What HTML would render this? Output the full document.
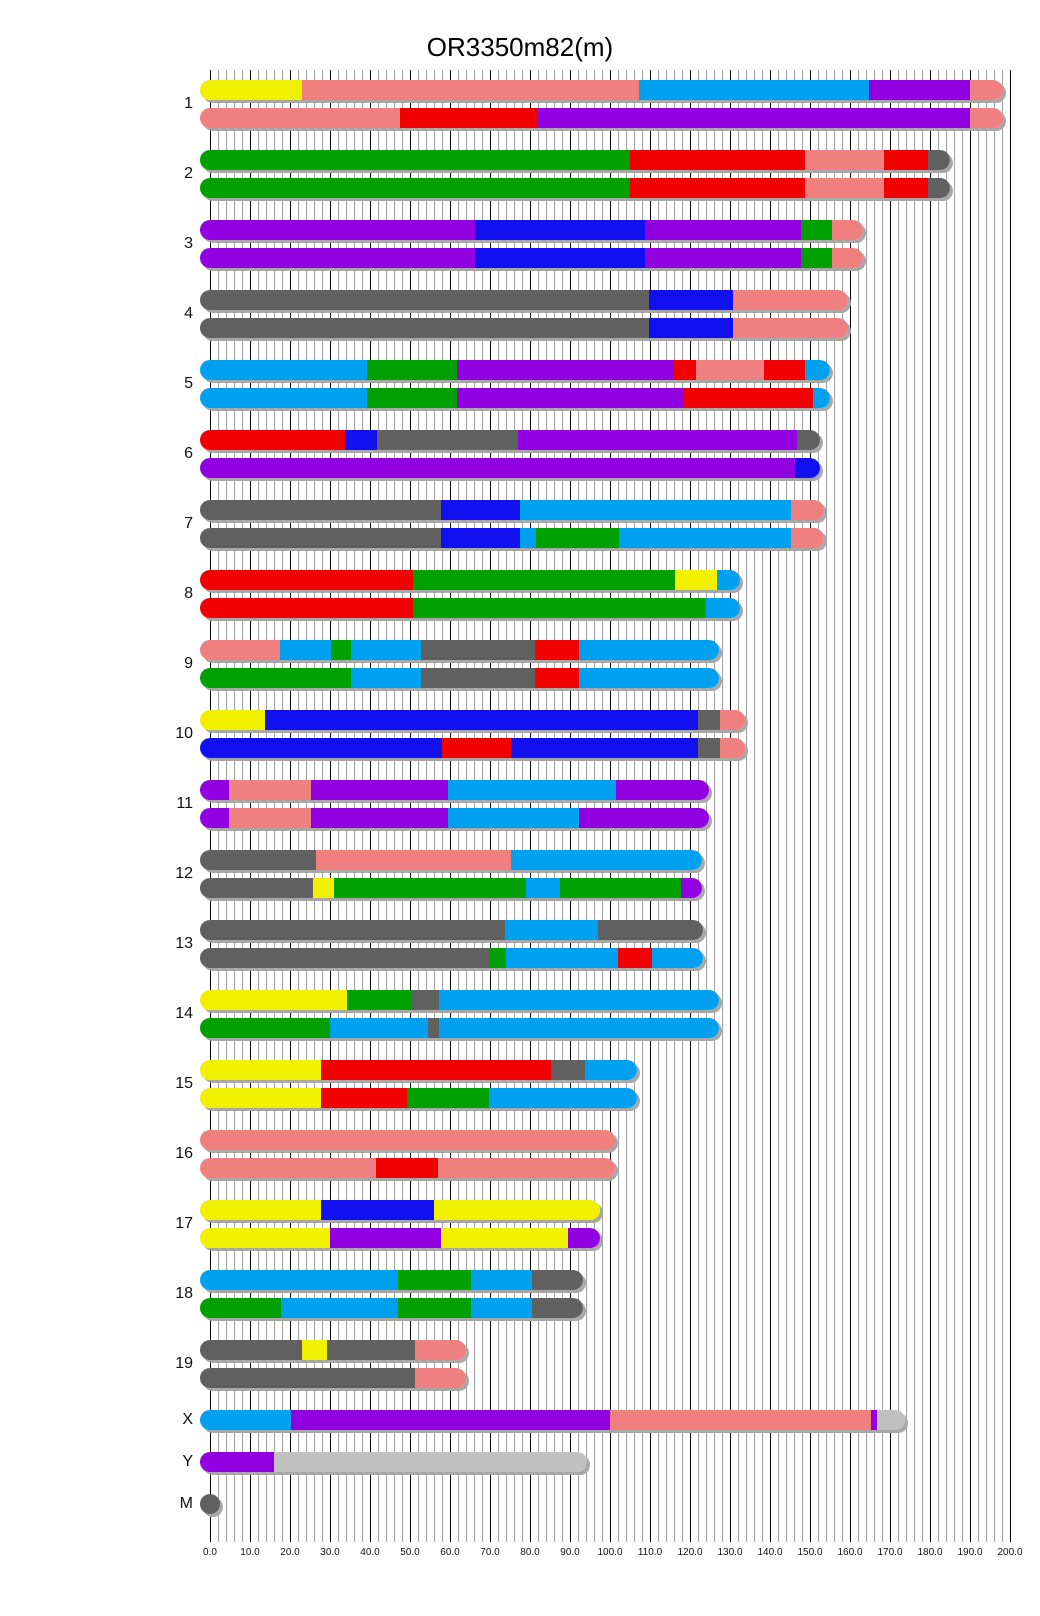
<!DOCTYPE html>
<html><head><meta charset="utf-8"><style>
body{margin:0;background:#fff;}
#c{position:relative;width:1040px;height:1616px;overflow:hidden;font-family:"Liberation Sans",sans-serif;background:#fff;}
.grid{position:absolute;left:210px;top:70px;width:801px;height:1472px;
background-image:linear-gradient(90deg,#000 0 1px,transparent 1px),linear-gradient(90deg,#a0a0a0 0 1px,transparent 1px);
background-size:40px 100%,8px 100%;}
.r{position:absolute;left:200px;height:20px;border-radius:10px;box-shadow:3px 3px 0 #a8a8a8;}
.l{position:absolute;left:140px;width:53px;text-align:right;font-size:16px;height:20px;line-height:20px;color:#111;}
.t{position:absolute;top:1547px;width:40px;text-align:center;font-size:10px;color:#111;}
.title{position:absolute;left:0;width:1040px;top:32px;text-align:center;font-size:26px;color:#000;}
</style></head><body><div id="c">
<div class="title">OR3350m82(m)</div>
<div class="grid"></div>

<div class="l" style="top:94px">1</div>
<div class="r" style="top:80px;width:803px;background:linear-gradient(90deg,#f0f000 0 102px,#f08080 102px 439px,#00a0f0 439px 669px,#9000e0 669px 770px,#f08080 770px)"></div>
<div class="r" style="top:108px;width:803px;background:linear-gradient(90deg,#f08080 0 200px,#f00000 200px 337px,#9000e0 337px 770px,#f08080 770px)"></div>

<div class="l" style="top:164px">2</div>
<div class="r" style="top:150px;width:750px;background:linear-gradient(90deg,#00a000 0 430px,#f00000 430px 605px,#f08080 605px 684px,#f00000 684px 728px,#606060 728px)"></div>
<div class="r" style="top:178px;width:750px;background:linear-gradient(90deg,#00a000 0 430px,#f00000 430px 605px,#f08080 605px 684px,#f00000 684px 728px,#606060 728px)"></div>

<div class="l" style="top:234px">3</div>
<div class="r" style="top:220px;width:663px;background:linear-gradient(90deg,#9000e0 0 275px,#1010f0 275px 445px,#9000e0 445px 601px,#00a000 601px 632px,#f08080 632px)"></div>
<div class="r" style="top:248px;width:663px;background:linear-gradient(90deg,#9000e0 0 275px,#1010f0 275px 445px,#9000e0 445px 601px,#00a000 601px 632px,#f08080 632px)"></div>

<div class="l" style="top:304px">4</div>
<div class="r" style="top:290px;width:648px;background:linear-gradient(90deg,#606060 0 449px,#1010f0 449px 533px,#f08080 533px)"></div>
<div class="r" style="top:318px;width:648px;background:linear-gradient(90deg,#606060 0 449px,#1010f0 449px 533px,#f08080 533px)"></div>

<div class="l" style="top:374px">5</div>
<div class="r" style="top:360px;width:630px;background:linear-gradient(90deg,#00a0f0 0 167px,#00a000 167px 257px,#9000e0 257px 474px,#f00000 474px 496px,#f08080 496px 564px,#f00000 564px 605px,#00a0f0 605px)"></div>
<div class="r" style="top:388px;width:630px;background:linear-gradient(90deg,#00a0f0 0 167px,#00a000 167px 257px,#9000e0 257px 483px,#f00000 483px 613px,#00a0f0 613px)"></div>

<div class="l" style="top:444px">6</div>
<div class="r" style="top:430px;width:620px;background:linear-gradient(90deg,#f00000 0 145px,#1010f0 145px 177px,#606060 177px 318px,#9000e0 318px 597px,#606060 597px)"></div>
<div class="r" style="top:458px;width:620px;background:linear-gradient(90deg,#9000e0 0 595px,#1010f0 595px)"></div>

<div class="l" style="top:514px">7</div>
<div class="r" style="top:500px;width:624px;background:linear-gradient(90deg,#606060 0 241px,#1010f0 241px 320px,#00a0f0 320px 591px,#f08080 591px)"></div>
<div class="r" style="top:528px;width:624px;background:linear-gradient(90deg,#606060 0 241px,#1010f0 241px 320px,#00a0f0 320px 336px,#00a000 336px 419px,#00a0f0 419px 591px,#f08080 591px)"></div>

<div class="l" style="top:584px">8</div>
<div class="r" style="top:570px;width:540px;background:linear-gradient(90deg,#f00000 0 213px,#00a000 213px 475px,#f0f000 475px 517px,#00a0f0 517px)"></div>
<div class="r" style="top:598px;width:540px;background:linear-gradient(90deg,#f00000 0 213px,#00a000 213px 506px,#00a0f0 506px)"></div>

<div class="l" style="top:654px">9</div>
<div class="r" style="top:640px;width:519px;background:linear-gradient(90deg,#f08080 0 80px,#00a0f0 80px 131px,#00a000 131px 151px,#00a0f0 151px 221px,#606060 221px 335px,#f00000 335px 379px,#00a0f0 379px)"></div>
<div class="r" style="top:668px;width:519px;background:linear-gradient(90deg,#00a000 0 151px,#00a0f0 151px 221px,#606060 221px 335px,#f00000 335px 379px,#00a0f0 379px)"></div>

<div class="l" style="top:724px">10</div>
<div class="r" style="top:710px;width:545px;background:linear-gradient(90deg,#f0f000 0 65px,#1010f0 65px 498px,#606060 498px 520px,#f08080 520px)"></div>
<div class="r" style="top:738px;width:545px;background:linear-gradient(90deg,#1010f0 0 242px,#f00000 242px 311px,#1010f0 311px 498px,#606060 498px 520px,#f08080 520px)"></div>

<div class="l" style="top:794px">11</div>
<div class="r" style="top:780px;width:509px;background:linear-gradient(90deg,#9000e0 0 29px,#f08080 29px 111px,#9000e0 111px 248px,#00a0f0 248px 416px,#9000e0 416px)"></div>
<div class="r" style="top:808px;width:509px;background:linear-gradient(90deg,#9000e0 0 29px,#f08080 29px 111px,#9000e0 111px 248px,#00a0f0 248px 379px,#9000e0 379px)"></div>

<div class="l" style="top:864px">12</div>
<div class="r" style="top:850px;width:502px;background:linear-gradient(90deg,#606060 0 116px,#f08080 116px 311px,#00a0f0 311px)"></div>
<div class="r" style="top:878px;width:502px;background:linear-gradient(90deg,#606060 0 113px,#f0f000 113px 134px,#00a000 134px 326px,#00a0f0 326px 360px,#00a000 360px 481px,#9000e0 481px)"></div>

<div class="l" style="top:934px">13</div>
<div class="r" style="top:920px;width:503px;background:linear-gradient(90deg,#606060 0 305px,#00a0f0 305px 398px,#606060 398px)"></div>
<div class="r" style="top:948px;width:503px;background:linear-gradient(90deg,#606060 0 290px,#00a000 290px 306px,#00a0f0 306px 418px,#f00000 418px 452px,#00a0f0 452px)"></div>

<div class="l" style="top:1004px">14</div>
<div class="r" style="top:990px;width:519px;background:linear-gradient(90deg,#f0f000 0 147px,#00a000 147px 211px,#606060 211px 239px,#00a0f0 239px)"></div>
<div class="r" style="top:1018px;width:519px;background:linear-gradient(90deg,#00a000 0 130px,#00a0f0 130px 228px,#606060 228px 239px,#00a0f0 239px)"></div>

<div class="l" style="top:1074px">15</div>
<div class="r" style="top:1060px;width:437px;background:linear-gradient(90deg,#f0f000 0 121px,#f00000 121px 351px,#606060 351px 385px,#00a0f0 385px)"></div>
<div class="r" style="top:1088px;width:437px;background:linear-gradient(90deg,#f0f000 0 121px,#f00000 121px 207px,#00a000 207px 289px,#00a0f0 289px)"></div>

<div class="l" style="top:1144px">16</div>
<div class="r" style="top:1130px;width:415px;background:#f08080"></div>
<div class="r" style="top:1158px;width:415px;background:linear-gradient(90deg,#f08080 0 176px,#f00000 176px 238px,#f08080 238px)"></div>

<div class="l" style="top:1214px">17</div>
<div class="r" style="top:1200px;width:400px;background:linear-gradient(90deg,#f0f000 0 121px,#1010f0 121px 234px,#f0f000 234px)"></div>
<div class="r" style="top:1228px;width:400px;background:linear-gradient(90deg,#f0f000 0 130px,#9000e0 130px 241px,#f0f000 241px 368px,#9000e0 368px)"></div>

<div class="l" style="top:1284px">18</div>
<div class="r" style="top:1270px;width:383px;background:linear-gradient(90deg,#00a0f0 0 198px,#00a000 198px 271px,#00a0f0 271px 332px,#606060 332px)"></div>
<div class="r" style="top:1298px;width:383px;background:linear-gradient(90deg,#00a000 0 81px,#00a0f0 81px 198px,#00a000 198px 271px,#00a0f0 271px 332px,#606060 332px)"></div>

<div class="l" style="top:1354px">19</div>
<div class="r" style="top:1340px;width:266px;background:linear-gradient(90deg,#606060 0 102px,#f0f000 102px 127px,#606060 127px 215px,#f08080 215px)"></div>
<div class="r" style="top:1368px;width:266px;background:linear-gradient(90deg,#606060 0 215px,#f08080 215px)"></div>

<div class="l" style="top:1410px">X</div>
<div class="r" style="top:1410px;width:705px;background:linear-gradient(90deg,#00a0f0 0 91px,#9000e0 91px 410px,#f08080 410px 671px,#9000e0 671px 677px,#c0c0c0 677px)"></div>

<div class="l" style="top:1452px">Y</div>
<div class="r" style="top:1452px;width:387px;background:linear-gradient(90deg,#9000e0 0 74px,#c0c0c0 74px)"></div>

<div class="l" style="top:1494px">M</div>
<div class="r" style="top:1494px;width:20px;background:#606060"></div>

<div class="t" style="left:190px">0.0</div>
<div class="t" style="left:230px">10.0</div>
<div class="t" style="left:270px">20.0</div>
<div class="t" style="left:310px">30.0</div>
<div class="t" style="left:350px">40.0</div>
<div class="t" style="left:390px">50.0</div>
<div class="t" style="left:430px">60.0</div>
<div class="t" style="left:470px">70.0</div>
<div class="t" style="left:510px">80.0</div>
<div class="t" style="left:550px">90.0</div>
<div class="t" style="left:590px">100.0</div>
<div class="t" style="left:630px">110.0</div>
<div class="t" style="left:670px">120.0</div>
<div class="t" style="left:710px">130.0</div>
<div class="t" style="left:750px">140.0</div>
<div class="t" style="left:790px">150.0</div>
<div class="t" style="left:830px">160.0</div>
<div class="t" style="left:870px">170.0</div>
<div class="t" style="left:910px">180.0</div>
<div class="t" style="left:950px">190.0</div>
<div class="t" style="left:990px">200.0</div>
</div></body></html>
